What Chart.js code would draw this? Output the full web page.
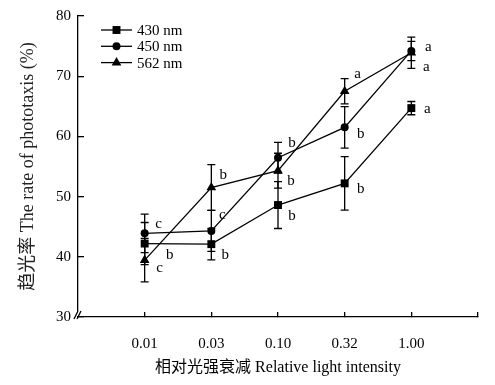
<!DOCTYPE html>
<html>
<head>
<meta charset="utf-8">
<script src="https://cdn.jsdelivr.net/npm/chart.js@4.4.0/dist/chart.umd.min.js"></script>
<style>
html, body { margin: 0; padding: 0; background: #fff; }
</style>
</head>
<body>
<canvas id="grafica" width="495" height="385"></canvas>
<script>
const categorias = ['0.01', '0.03', '0.10', '0.32', '1.00'];
const ticksY = [30, 40, 50, 60, 70, 80];

const series = ['430 nm', '450 nm', '562 nm'];
const valores430 = [42.2, 42.1, 48.6, 52.2, 64.7];
const valores450 = [43.9, 44.3, 56.45, 61.5, 74.2];
const valores562 = [39.45, 51.5, 54.3, 67.5, 73.9];
const error430 = [3.5, 2.6, 3.9, 4.45, 1.1];
const error450 = [3.2, 3.4, 2.55, 3.45, 1.6];
const error562 = [3.6, 3.8, 2.9, 2.1, 2.6];
const letras430 = ['b', 'b', 'b', 'b', 'a'];
const letras450 = ['c', 'c', 'b', 'b', 'a'];
const letras562 = ['c', 'b', 'b', 'a', 'a'];

// desplazamiento de cada letra respecto a su punto (px)
const offsets = [
    [[25, 12], [14, 11], [14, 11], [16, 6], [16, 1]],
    [[14, -9], [11, -16], [14, -15], [16, 7], [17, -4]],
    [[15, 8], [12, -13], [13, 10], [13, -17], [15, 14]]
];

const FUENTE = '"Liberation Serif", "Times New Roman", "Noto Sans CJK SC", serif';
const estilos = ['rect', 'circle', 'triangle'];
const radios = [5.6, 4, 5.6];

const valores = [valores430, valores450, valores562];
const errores = [error430, error450, error562];
const letras = [letras430, letras450, letras562];

function puntos(vals) {
    return vals.map((v, i) => ({ x: i + 1, y: v }));
}

const barrasError = {
    id: 'barrasError',
    beforeDatasetsDraw(chart) {
        const ctx = chart.ctx;
        const xs = chart.scales.x, ys = chart.scales.y;
        ctx.save();
        ctx.strokeStyle = '#000';
        ctx.lineWidth = 1.3;
        errores.forEach((errs, s) => {
            errs.forEach((e, i) => {
                const px = xs.getPixelForValue(i + 1);
                const top = ys.getPixelForValue(valores[s][i] + e);
                const bot = ys.getPixelForValue(valores[s][i] - e);
                ctx.beginPath();
                ctx.moveTo(px, top); ctx.lineTo(px, bot);
                ctx.moveTo(px - 4, top); ctx.lineTo(px + 4, top);
                ctx.moveTo(px - 4, bot); ctx.lineTo(px + 4, bot);
                ctx.stroke();
            });
        });
        ctx.restore();
    }
};

function marcador(ctx, estilo, x, y, r) {
    ctx.beginPath();
    if (estilo === 'rect') {
        const s = r * Math.SQRT1_2;
        ctx.rect(x - s, y - s, 2 * s, 2 * s);
    } else if (estilo === 'circle') {
        ctx.arc(x, y, r, 0, Math.PI * 2);
    } else {
        ctx.moveTo(x, y - r);
        ctx.lineTo(x + r * 0.866, y + r * 0.5);
        ctx.lineTo(x - r * 0.866, y + r * 0.5);
        ctx.closePath();
    }
    ctx.fill();
}

const extras = {
    id: 'extras',
    afterDraw(chart) {
        const ctx = chart.ctx;
        const xs = chart.scales.x, ys = chart.scales.y;
        const area = chart.chartArea;
        ctx.save();
        // letras de significancia
        ctx.fillStyle = '#000';
        ctx.font = '15px ' + FUENTE;
        ctx.textAlign = 'center';
        ctx.textBaseline = 'middle';
        letras.forEach((ls, s) => {
            ls.forEach((l, i) => {
                const px = xs.getPixelForValue(i + 1);
                const py = ys.getPixelForValue(valores[s][i]);
                ctx.fillText(l, px + offsets[s][i][0], py + offsets[s][i][1]);
            });
        });
        // leyenda
        ctx.textAlign = 'left';
        ctx.strokeStyle = '#000';
        ctx.lineWidth = 1.3;
        series.forEach((nombre, s) => {
            const y = area.top + 14 + s * 16.3;
            const x0 = area.left + 23;
            ctx.beginPath();
            ctx.moveTo(x0, y); ctx.lineTo(x0 + 31, y);
            ctx.stroke();
            marcador(ctx, estilos[s], x0 + 15.5, y, radios[s]);
            ctx.fillText(nombre, x0 + 36, y + 1);
        });
        // marca de corte en el eje
        const bx = area.left, by = area.bottom;
        ctx.fillStyle = '#fff';
        ctx.fillRect(bx - 3, by - 6, 6, 5);
        ctx.beginPath();
        ctx.moveTo(bx - 4, by + 2); ctx.lineTo(bx, by - 6);
        ctx.moveTo(bx - 1, by + 2); ctx.lineTo(bx + 3, by - 6);
        ctx.stroke();
        ctx.restore();
    }
};

const ctx = document.getElementById('grafica').getContext('2d');
new Chart(ctx, {
    type: 'line',
    data: {
        datasets: series.map((nombre, s) => ({
            label: nombre,
            data: puntos(valores[s]),
            borderColor: '#000',
            backgroundColor: '#000',
            borderWidth: 1.3,
            pointStyle: estilos[s],
            pointRadius: radios[s],
            pointBackgroundColor: '#000',
            pointBorderWidth: 0,
            tension: 0,
            fill: false
        }))
    },
    options: {
        responsive: false,
        animation: false,
        layout: { padding: { top: 16, right: 17, left: 0, bottom: 0 } },
        plugins: { legend: { display: false }, tooltip: { enabled: false } },
        scales: {
            x: {
                type: 'linear',
                min: 0,
                max: 6,
                afterFit: s => { s.height = 68; s.paddingLeft = 0; s.paddingRight = 0; },
                afterBuildTicks: s => { s.ticks = [0, 1, 2, 3, 4, 5, 6].map(v => ({ value: v })); },
                ticks: {
                    autoSkip: false,
                    maxRotation: 0,
                    padding: 23,
                    color: '#000',
                    font: { family: FUENTE, size: 15 },
                    callback: v => categorias[v - 1] ?? ''
                },
                grid: { drawOnChartArea: false, drawTicks: true, tickLength: -5, color: '#000', lineWidth: 1.3 },
                border: { display: true, color: '#000', width: 1.3 },
                title: {
                    display: true,
                    text: '相对光强衰减 Relative light intensity',
                    color: '#000',
                    font: { family: FUENTE, size: 16 },
                    padding: { top: 0, bottom: 8 }
                }
            },
            y: {
                min: 30,
                max: 80,
                afterFit: s => { s.width = 78; s.paddingTop = 0; s.paddingBottom = 0; },
                afterBuildTicks: s => { s.ticks = ticksY.map(v => ({ value: v })); },
                ticks: {
                    padding: 13,
                    color: '#000',
                    font: { family: FUENTE, size: 15 }
                },
                grid: { drawOnChartArea: false, drawTicks: true, tickLength: -6, color: '#000', lineWidth: 1.3 },
                border: { display: true, color: '#000', width: 1.3 },
                title: {
                    display: true,
                    text: '趋光率 The rate of phototaxis (%)',
                    color: '#222',
                    font: { family: FUENTE, size: 18 },
                    padding: { top: 17, bottom: 0 }
                }
            }
        }
    },
    plugins: [barrasError, extras]
});
</script>
</body>
</html>
